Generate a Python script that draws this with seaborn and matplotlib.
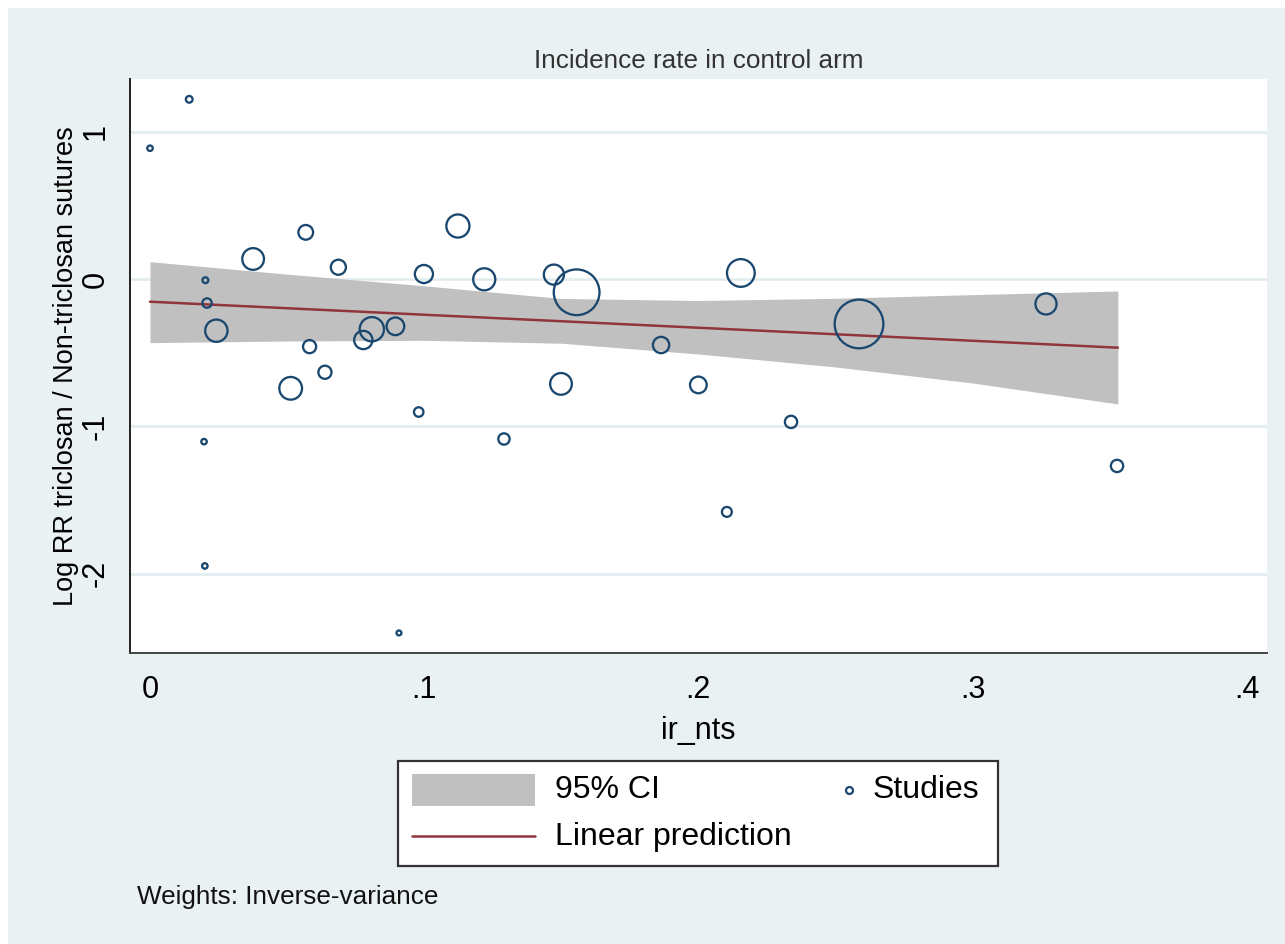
import numpy as np
import pandas as pd
import matplotlib
matplotlib.use('Agg')
import matplotlib.pyplot as plt
from matplotlib.patches import Rectangle
from matplotlib.lines import Line2D
import seaborn as sns

# study level data
ir_nts = [0.0000, 0.0143, 0.0202, 0.0208, 0.0242, 0.0197, 0.0200, 0.0376, 0.0568, 0.0582,
          0.0513, 0.0638, 0.0687, 0.0778, 0.0809, 0.0895, 0.0908, 0.0980, 0.0999, 0.1123,
          0.1219, 0.1291, 0.1473, 0.1499, 0.1556, 0.1864, 0.2000, 0.2104, 0.2155, 0.2338,
          0.2586, 0.3268, 0.3527]
log_rr = [0.889, 1.221, -0.007, -0.162, -0.350, -1.103, -1.947, 0.137, 0.318, -0.458,
          -0.741, -0.632, 0.081, -0.413, -0.340, -0.320, -2.402, -0.902, 0.035, 0.361,
          -0.001, -1.085, 0.031, -0.711, -0.089, -0.447, -0.718, -1.580, 0.042, -0.969,
          -0.304, -0.168, -1.268]
# inverse-variance weights (relative)
weight = [30, 45, 34, 88, 497, 30, 30, 471, 216, 172,
          515, 172, 228, 335, 590, 313, 24, 90, 328, 534,
          488, 128, 404, 471, 2088, 266, 279, 98, 767, 151,
          2372, 445, 151]

# fitted line and 95% CI band
pred_x = [0.0, 0.353]
pred_y = [-0.153, -0.465]
ci_x = [0.0, 0.05, 0.10, 0.15, 0.20, 0.25, 0.30, 0.353]
ci_upper = [0.119, 0.034, -0.045, -0.131, -0.145, -0.130, -0.105, -0.080]
ci_lower = [-0.431, -0.420, -0.415, -0.435, -0.508, -0.596, -0.705, -0.847]

xticks = [0, 0.1, 0.2, 0.3, 0.4]
xtick_labels = ['0', '.1', '.2', '.3', '.4']
yticks = [-2, -1, 0, 1]
ytick_labels = ['-2', '-1', '0', '1']

studies = pd.DataFrame({'ir_nts': ir_nts, 'log_rr': log_rr, 'weight': weight})
pred = pd.DataFrame({'x': pred_x, 'y': pred_y})

sns.set_theme(style='white')
plt.rcParams['font.family'] = ['Liberation Sans', 'DejaVu Sans']

navy = '#1A476F'
maroon = '#90353B'
band = '#C0C0C0'
bg = '#EAF1F3'
W, H = 1285, 944

fig = plt.figure(figsize=(W / 100, H / 100), dpi=100)
fig.patch.set_facecolor('white')
fig.patches.append(Rectangle((8 / W, 0), 1 - 8 / W, 1 - 8 / H, transform=fig.transFigure,
                             facecolor=bg, edgecolor='none', zorder=-10))

ax = fig.add_axes([130 / W, 1 - 653 / H, (1267 - 130) / W, (653 - 79) / H])
ax.set_facecolor('white')

ax.fill_between(ci_x, ci_lower, ci_upper, color=band, lw=0, zorder=2)
sns.lineplot(data=pred, x='x', y='y', color=maroon, lw=1.8, ax=ax, zorder=3)

wmax = max(weight)
sns.scatterplot(data=studies, x='ir_nts', y='log_rr', size='weight',
                sizes=(0, wmax * 0.5184), size_norm=(0, wmax),
                facecolor='none', edgecolor=navy, linewidth=1.65,
                legend=False, ax=ax, zorder=4)

ax.set_xlim(-0.0073, 0.4074)
ax.set_ylim(-2.538, 1.359)
ax.set_xticks(xticks, xtick_labels)
ax.set_yticks(yticks, ytick_labels)
ax.yaxis.grid(True, color='#E3EDF0', lw=2, zorder=0)
ax.set_axisbelow(True)

for s in ['top', 'right']:
    ax.spines[s].set_visible(False)
ax.spines['left'].set_color('#222222')
ax.spines['bottom'].set_color('#444444')
ax.spines['left'].set_linewidth(1.4)
ax.spines['bottom'].set_linewidth(1.4)

ax.tick_params(axis='both', direction='out', length=10, width=1.4, color='#555555',
               labelsize=22, labelcolor='black', pad=6)
ax.tick_params(axis='y', labelrotation=90, pad=4)
for lab in ax.get_yticklabels():
    lab.set_va('center')

ax.set_xlabel('ir_nts', fontsize=22, labelpad=8, color='black')
ax.set_ylabel('Log RR triclosan / Non-triclosan sutures', fontsize=19.5, labelpad=1,
              color='black')
ax.set_title('Incidence rate in control arm', fontsize=18.8, color='#333333', pad=8)

# legend box drawn in pixel space
lg = fig.add_axes([0, 0, 1, 1], zorder=5)
lg.set_xlim(0, W)
lg.set_ylim(H, 0)
lg.axis('off')
lg.patch.set_alpha(0)
lg.add_patch(Rectangle((398, 761), 600, 105, facecolor='white', edgecolor='#333333', lw=1.6))
lg.add_patch(Rectangle((412, 774), 123, 32, facecolor=band, edgecolor='none'))
lg.add_line(Line2D([412, 535], [836, 836], color=maroon, lw=1.8))
lg.plot([849], [790], marker='o', ms=5, mfc='none', mec=navy, mew=1.6)
lg.text(555, 790, '95% CI', fontsize=23, va='center', ha='left', color='black')
lg.text(555, 837, 'Linear prediction', fontsize=23, va='center', ha='left', color='black')
lg.text(873, 790, 'Studies', fontsize=23, va='center', ha='left', color='black')
lg.text(137, 897, 'Weights: Inverse-variance', fontsize=18.8, va='center', ha='left',
        color='#111111')

fig.savefig('out.png', dpi=100)
